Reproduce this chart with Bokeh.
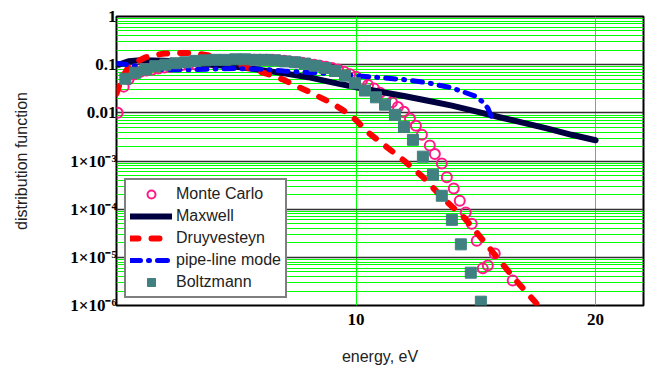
from bokeh.plotting import figure
from bokeh.models import Range1d, FixedTicker, CustomJSTickFormatter
from bokeh.embed import file_html
from bokeh.resources import INLINE

# ---------------- data ----------------
mc_x = [0.05, 0.3, 0.5, 0.75, 1.0, 1.25, 1.5, 1.75, 2.0, 2.25, 2.5, 2.75, 3.0, 3.25, 3.5, 3.75,
        4.0, 4.25, 4.5, 4.75, 5.0, 5.25, 5.5, 5.75, 6.0, 6.25, 6.5, 6.75, 7.0, 7.25, 7.5, 7.75,
        8.0, 8.25, 8.5, 8.75, 9.0, 9.25, 9.5, 9.75, 10.0, 10.25, 10.5, 10.75, 11.0, 11.25, 11.5,
        11.75, 12.0, 12.25, 12.5, 12.75, 13.08, 13.29, 13.58, 13.79, 14.08, 14.33, 14.58, 14.83,
        15.04, 15.29, 15.5, 15.79, 16.54]
mc_y = [0.01, 0.035, 0.05, 0.063, 0.071, 0.076, 0.079, 0.083, 0.087, 0.091, 0.093, 0.098, 0.1,
        0.102, 0.107, 0.11, 0.112, 0.115, 0.117, 0.12, 0.12, 0.123, 0.123, 0.126, 0.126, 0.126,
        0.126, 0.123, 0.12, 0.117, 0.112, 0.11, 0.105, 0.1, 0.095, 0.091, 0.085, 0.079, 0.071,
        0.063, 0.056, 0.047, 0.038, 0.032, 0.026, 0.021, 0.0166, 0.0132, 0.0105, 0.0076, 0.0054,
        0.0035, 0.0021, 0.0014, 8.9e-4, 4.6e-4, 2.7e-4, 1.5e-4, 8.5e-5, 5.0e-5, 2.2e-5, 5.9e-6,
        6.8e-6, 1.2e-5, 3.3e-6]

maxwell_x = [0.1, 0.5, 1, 2, 3, 4, 5, 6, 7, 8, 9, 10, 11, 12, 13, 14, 15, 16, 17, 18, 19, 20]
maxwell_y = [0.1, 0.118, 0.124, 0.12, 0.112, 0.1, 0.09, 0.078, 0.066, 0.055, 0.043, 0.034,
             0.0275, 0.0224, 0.0178, 0.0141, 0.0107, 0.0081, 0.0062, 0.0047, 0.0035, 0.0027]

druy_x = [0, 0.2, 0.5, 0.8, 1.2, 1.6, 2.0, 2.5, 3.0, 3.5, 4.0, 4.5, 5.0, 5.4, 6.0, 6.4, 7.0, 7.5,
          8.0, 8.5, 9.0, 9.5, 10.0, 10.4, 11.1, 12.0, 12.8, 13.6, 14.5, 15.2, 16.0, 16.75, 17.5, 18.0]
druy_y = [0.025, 0.05, 0.089, 0.112, 0.141, 0.158, 0.17, 0.174, 0.174, 0.166, 0.151, 0.132, 0.107,
          0.089, 0.071, 0.062, 0.048, 0.036, 0.028, 0.021, 0.0158, 0.011, 0.0071, 0.0043, 0.0023,
          0.00102, 4.6e-4, 1.74e-4, 6.8e-5, 2.6e-5, 8.5e-6, 3.0e-6, 1.15e-6, 5.6e-7]

pipe_x = [0, 0.5, 1, 2, 3, 4, 5, 6, 7, 8, 9, 10, 11, 12, 13, 14, 14.5, 15, 15.3, 15.5, 15.7]
pipe_y = [0.107, 0.1, 0.089, 0.079, 0.078, 0.081, 0.083, 0.081, 0.074, 0.069, 0.065, 0.059, 0.054,
          0.049, 0.042, 0.033, 0.027, 0.022, 0.0166, 0.0126, 0.0071]

boltz_x = [0.37, 0.79, 1.21, 1.62, 2.04, 2.46, 2.87, 3.29, 3.71, 4.12, 4.54, 4.96, 5.37, 5.79, 6.21,
           6.62, 7.04, 7.46, 7.87, 8.29, 8.71, 9.12, 9.54, 9.96, 10.375, 10.83, 11.21, 11.625,
           12.0, 12.375, 12.79, 13.21, 13.58, 14.0, 14.375, 14.79, 15.21]
boltz_y = [0.051, 0.068, 0.079, 0.093, 0.1, 0.107, 0.112, 0.12, 0.123, 0.126, 0.126, 0.129, 0.129,
           0.126, 0.126, 0.123, 0.117, 0.112, 0.105, 0.095, 0.085, 0.074, 0.059, 0.041, 0.029,
           0.021, 0.0148, 0.0091, 0.0051, 0.00275, 0.00123, 5.2e-4, 1.9e-4, 6.0e-5, 1.86e-5,
           4.8e-6, 1.2e-6]

y_ticks = [1e-6, 1e-5, 1e-4, 1e-3, 0.01, 0.1, 1]
y_tick_labels = ["1×10⁻⁶", "1×10⁻⁵", "1×10⁻⁴", "1×10⁻³", "0.01", "0.1", "1"]
x_ticks = [10, 20]

# ---------------- figure ----------------
p = figure(width=648, height=367, output_backend="svg", toolbar_location=None,
           y_axis_type="log", x_range=Range1d(0, 22), y_range=Range1d(1e-6, 1),
           min_border_left=116, min_border_right=5, min_border_top=16, min_border_bottom=62)
p.background_fill_color = "white"
p.border_fill_color = "white"
p.outline_line_color = "black"
p.outline_line_width = 2

minor = [m * 10.0 ** e for e in range(-6, 0) for m in range(2, 10)]
p.yaxis.ticker = FixedTicker(ticks=y_ticks, minor_ticks=minor)
p.xaxis.ticker = FixedTicker(ticks=x_ticks)
p.yaxis.formatter = CustomJSTickFormatter(args=dict(labels=y_tick_labels),
                                          code="const e = Math.round(Math.log10(tick)); return labels[e + 6];")

for ax in (p.xaxis, p.yaxis):
    ax.axis_line_color = None
    ax.major_tick_in = 0
    ax.major_tick_out = 0
    ax.minor_tick_in = 0
    ax.minor_tick_out = 0
    ax.major_label_text_font = "Liberation Serif"
    ax.major_label_text_font_style = "bold"
    ax.major_label_text_font_size = "17px"
    ax.major_label_text_color = "black"
    ax.axis_label_text_font = "Liberation Sans"
    ax.axis_label_text_font_style = "normal"
    ax.axis_label_text_font_size = "16px"
    ax.axis_label_text_color = "#222222"

p.xaxis.axis_label = "energy, eV"
p.yaxis.axis_label = "distribution function"
p.xaxis.major_label_text_line_height = 1.0
p.xaxis.axis_label_text_line_height = 1.0
p.xaxis.major_label_standoff = 8
p.xaxis.axis_label_standoff = 20
p.yaxis.major_label_standoff = 0
p.yaxis.axis_label_standoff = 37

p.ygrid.grid_line_color = "#333333"
p.ygrid.grid_line_width = 1.5
p.ygrid.minor_grid_line_color = "#00ff00"
p.ygrid.minor_grid_line_width = 1
p.xgrid.grid_line_color = "#00ff00"
p.xgrid.grid_line_width = 1

# ---------------- series ----------------
p.scatter(mc_x, mc_y, marker="circle", size=10, fill_color=None, line_color="#ff1a85",
          line_width=2, legend_label="Monte Carlo")
p.line(maxwell_x, maxwell_y, line_color="#000040", line_width=6, line_cap="round",
       legend_label="Maxwell")
p.line(druy_x, druy_y, line_color="#ff0000", line_width=6, line_dash="8 13", line_cap="round",
       legend_label="Druyvesteyn")
p.line(pipe_x, pipe_y, line_color="#0000ff", line_width=5, line_dash="10 8 1 8", line_cap="round",
       legend_label="pipe-line mode")
p.scatter(boltz_x, boltz_y, marker="square", size=11, fill_color="#408080", line_color="#408080",
          legend_label="Boltzmann")

lg = p.legend[0]
lg.location = (8, 7)
lg.margin = 0
lg.padding = 4
lg.spacing = 2
lg.glyph_width = 42
lg.glyph_height = 20
lg.label_height = 20
lg.label_standoff = 4
lg.label_text_font = "Liberation Sans"
lg.label_text_font_size = "16px"
lg.label_text_color = "#222222"
lg.border_line_color = "black"
lg.border_line_width = 2
lg.background_fill_color = "white"
lg.background_fill_alpha = 1

open("out.html", "w").write(file_html(p, INLINE))
